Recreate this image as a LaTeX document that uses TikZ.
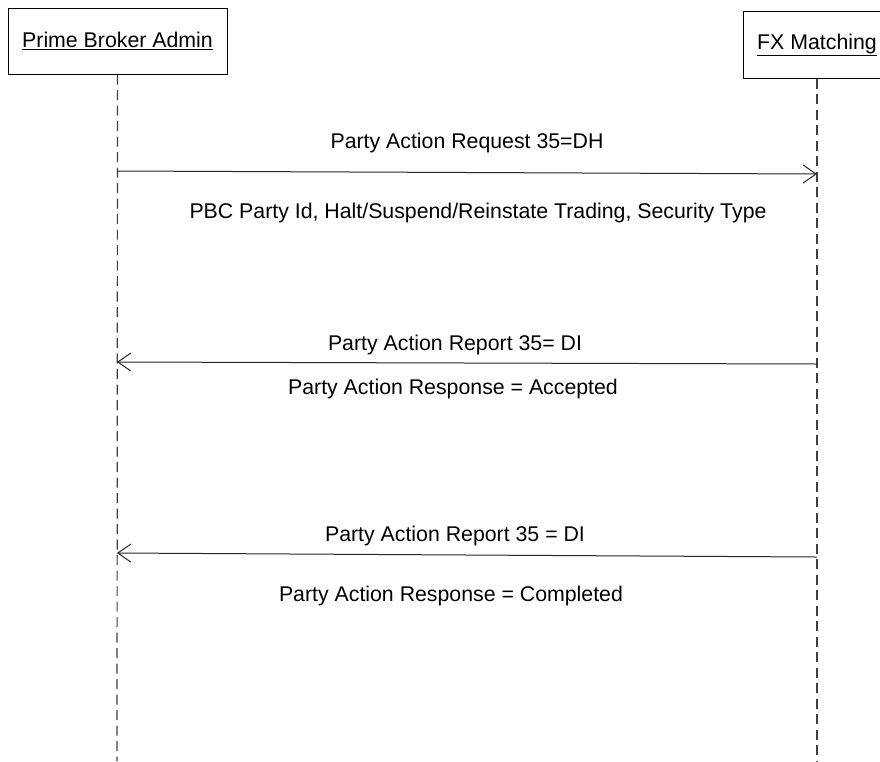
\documentclass[tikz,border=0pt]{standalone}
\usepackage{fontspec}
\setmainfont{Liberation Sans}
\usetikzlibrary{arrows.meta}
\begin{document}
\begin{tikzpicture}[x=1pt,y=-1pt,
  every node/.style={font=\fontsize{21.3}{25}\selectfont, text=black},
  actor/.style={draw=black, line width=1pt, fill=white, inner sep=0pt},
  lifeline/.style={draw=black!75, line width=1.2pt, dash pattern=on 10pt off 5.5pt},
  msg/.style={draw=black!85, line width=1pt, -{Straight Barb[length=13pt,width=18pt,line width=1pt]}},
  lbl/.style={inner sep=0pt, anchor=center}]
\useasboundingbox (0,0) rectangle (880,761);
\clip (0,0) rectangle (880,761);
% actors
\node[actor, minimum width=219pt, minimum height=66pt] (pba) at (117.5,41) {\underline{Prime Broker Admin}};
\node[actor, minimum width=148pt, minimum height=67pt] (fx) at (817,44.5) {\underline{FX Matching}};
% lifeline ends
\coordinate (pbaend) at (117,761);
\coordinate (fxend) at (817,761);
\draw[lifeline] (pba.south) -- (pbaend);
\draw[lifeline] (fx.south) -- (fxend);
% message points
\coordinate (m1s) at (117,171);
\coordinate (m1e) at (817,174);
\coordinate (m2s) at (817,364);
\coordinate (m2e) at (117,362);
\coordinate (m3s) at (817,557);
\coordinate (m3e) at (117,553);
\draw[msg] (m1s) -- (m1e);
\draw[msg] (m2s) -- (m2e);
\draw[msg] (m3s) -- (m3e);
% labels
\node[lbl] (l1) at (467,143) {Party Action Request 35=DH};
\node[lbl] (l1b) at (478,213) {PBC Party Id, Halt/Suspend/Reinstate Trading, Security Type};
\node[lbl] (l2) at (455,345) {Party Action Report 35= DI};
\node[lbl] (l2b) at (453,389) {Party Action Response = Accepted};
\node[lbl] (l3) at (455,536) {Party Action Report 35 = DI};
\node[lbl] (l3b) at (451,596) {Party Action Response = Completed};
\end{tikzpicture}
\end{document}
